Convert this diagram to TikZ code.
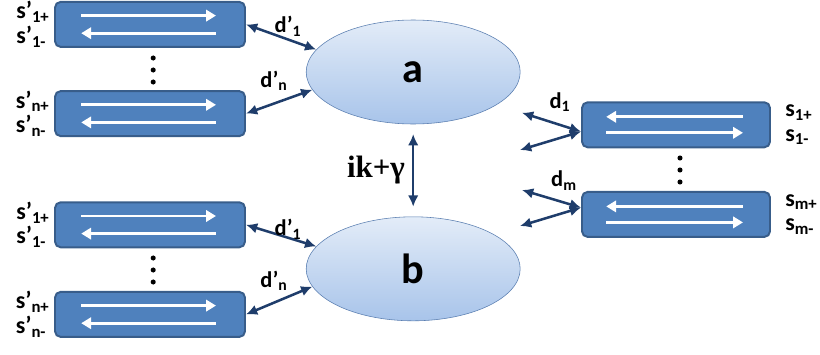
\documentclass[tikz,border=0pt]{standalone}
\usepackage{fontspec}
\setmainfont{Carlito}
\newfontfamily\gfont{Liberation Serif}
\usetikzlibrary{arrows.meta,positioning,shapes.geometric}
\definecolor{lanefill}{HTML}{4F81BD}
\definecolor{laneedge}{HTML}{385D8A}
\definecolor{navy}{HTML}{1F3D6B}
\definecolor{modetop}{HTML}{E3ECF8}
\definecolor{modebot}{HTML}{A8C4EA}
\definecolor{modeedge}{HTML}{5B7FB1}

\begin{document}
\begin{tikzpicture}[
    every node/.style={font=\bfseries},
    chan/.style={draw=laneedge,line width=1.4pt,rounded corners=4pt,fill=lanefill,
                 minimum width=4.75cm,minimum height=1.125cm},
    mode/.style={draw=modeedge,ellipse,top color=modetop,bottom color=modebot,
                 minimum width=5.35cm,minimum height=2.6cm,inner sep=0pt,
                 font=\bfseries\fontsize{30}{32}\selectfont},
    lane/.style={white,line width=2pt,-{Triangle[length=7pt,width=8pt]}},
    cpl/.style={navy,line width=1.8pt,
                {Latex[length=8pt,width=7.5pt]}-{Latex[length=8pt,width=7.5pt]}},
    port/.style={align=left,inner sep=0pt,font=\bfseries\fontsize{17}{17.5}\selectfont},
    rate/.style={inner sep=0pt,font=\bfseries\fontsize{16}{18}\selectfont},
  ]
  \useasboundingbox (0,0) rectangle (20.5,8.85);

  \node[mode] (a) at (10.33,7.05) {a};
  \node[mode] (b) at (10.33,2.13) {b};

  \node[chan] (lt1) at (3.75,8.24) {};
  \node[chan] (lt2) at (3.75,6.01) {};
  \node[chan] (lb1) at (3.75,3.23) {};
  \node[chan] (lb2) at (3.75,0.99) {};

  \node[chan,minimum width=4.7cm] (r1) at (16.9,5.73) {};
  \node[chan,minimum width=4.7cm] (r2) at (16.9,3.49) {};

  % lanes inside the waveguides
  \foreach \bx in {lt1,lt2,lb1,lb2} {
    \draw[lane] ([xshift=0.68cm,yshift=0.22cm]\bx.west) -- ([xshift=-0.75cm,yshift=0.22cm]\bx.east);
    \draw[lane] ([xshift=-0.75cm,yshift=-0.22cm]\bx.east) -- ([xshift=0.68cm,yshift=-0.22cm]\bx.west);
  }
  \foreach \bx in {r1,r2} {
    \draw[lane] ([xshift=-0.7cm,yshift=0.2cm]\bx.east) -- ([xshift=0.63cm,yshift=0.2cm]\bx.west);
    \draw[lane] ([xshift=0.63cm,yshift=-0.2cm]\bx.west) -- ([xshift=-0.7cm,yshift=-0.2cm]\bx.east);
  }

  % port labels
  \node[port,left=3pt of lt1] (plt1) {s’\textsubscript{1+}\\s’\textsubscript{1-}};
  \node[port,left=3pt of lt2] (plt2) {s’\textsubscript{n+}\\s’\textsubscript{n-}};
  \node[port,left=3pt of lb1] (plb1) {s’\textsubscript{1+}\\s’\textsubscript{1-}};
  \node[port,left=3pt of lb2] (plb2) {s’\textsubscript{n+}\\s’\textsubscript{n-}};
  \node[port,right=0.35cm of r1] (pr1) {s\textsubscript{1+}\\s\textsubscript{1-}};
  \node[port,right=0.35cm of r2] (pr2) {s\textsubscript{m+}\\s\textsubscript{m-}};

  \coordinate (dl1) at (3.83,7.1);
  \coordinate (dl2) at (3.83,2.1);
  \coordinate (dr) at (17.0,4.6);
  \foreach \d in {dl1,dl2,dr}
    \foreach \y in {-0.3,0,0.3}
      \fill (\d) ++(0,\y) circle (1.8pt);

  % couplings to the resonators
  \draw[cpl] (lt1.east) -- (a.167);
  \draw[cpl] (lt2.east) -- (a.190);
  \draw[cpl] (lb1.east) -- (b.167);
  \draw[cpl] (lb2.east) -- (b.190);
  \node[rate] (dta) at (7.2,8.2) {d’\textsubscript{1}};
  \node[rate] (dna) at (6.85,6.83) {d’\textsubscript{n}};
  \node[rate] (dtb) at (7.2,3.12) {d’\textsubscript{1}};
  \node[rate] (dnb) at (6.85,1.83) {d’\textsubscript{n}};

  \draw[cpl,shorten >=7pt,shorten <=7pt] (a) -- (b)
    node[midway,left=5pt,inner sep=0pt,text=black,
         font=\gfont\bfseries\fontsize{22}{24}\selectfont] (kg) {ik+γ};

  \coordinate (f1u) at (13.05,6.03);
  \coordinate (f1d) at (13.0,5.1);
  \coordinate (f2u) at (13.05,4.1);
  \coordinate (f2d) at (13.0,3.2);
  \draw[cpl] ([yshift=-0.17cm]r1.west) -- (f1u);
  \draw[cpl] ([yshift=-0.17cm]r1.west) -- (f1d);
  \draw[cpl] ([yshift=0.17cm]r2.west) -- (f2u);
  \draw[cpl] ([yshift=0.17cm]r2.west) -- (f2d);
  \node[rate] (d1) at (14.0,6.3) {d\textsubscript{1}};
  \node[rate] (dm) at (14.1,4.33) {d\textsubscript{m}};
\end{tikzpicture}
\end{document}
